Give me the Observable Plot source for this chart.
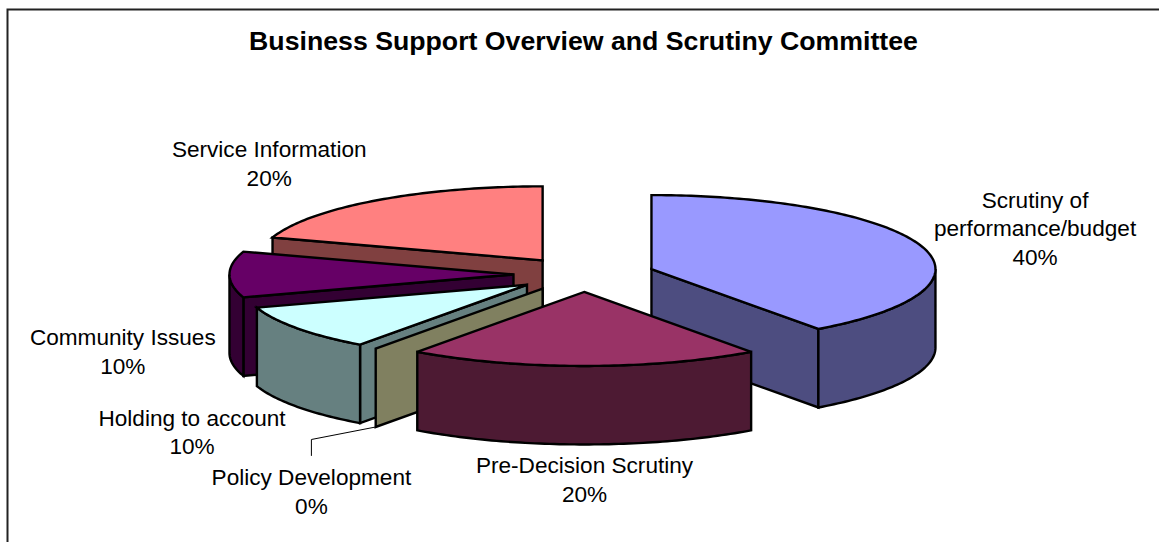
<!DOCTYPE html>
<html>
<head>
<meta charset="utf-8">
<style>
  html, body { margin: 0; padding: 0; background: #fff; }
  svg { display: block; }
</style>
<script src="https://cdn.jsdelivr.net/npm/d3@7"></script>
<script src="https://cdn.jsdelivr.net/npm/@observablehq/plot@0.6"></script>
</head>
<body>
<div id="chart"></div>
<script>
// Committee time by topic, in percent, clockwise from twelve o'clock.
const categories = [
  "Scrutiny of\nperformance/budget",
  "Pre-Decision Scrutiny",
  "Policy Development",
  "Holding to account",
  "Community Issues",
  "Service Information"
];
const shares = [40, 20, 0, 10, 10, 20];
const topColors = ["#9999FF", "#993366", "#808060", "#CCFFFF", "#660066", "#FF8080"];
const sideColors = ["#4D4D80", "#4D1A33", "#808060", "#668080", "#330033", "#804040"];
// Label centre relative to the middle of each slice's rim, in pixels.
const labelNudges = [[113.5, -19], [0.3, 112.5], [-64.3, 141.8], [-105.2, 102.4], [-106.7, 76], [-106.5, -38]];

const W = 1159, H = 542;
const cx = 583.7, cy = 274; // pie centre
const rx = 284, ry = 74;    // projected radii
const explodeX = 0.249, explodeY = 0.236; // slice offset, as a share of the radius
const depth = 78.5 / ry;    // extrusion height
const font = "Liberation Sans, Arial, sans-serif";

// Cumulative start and end angles (degrees) for every slice.
const total = d3.sum(shares);
let running = 0;
const slices = shares.map((value, i) => {
  const a0 = running / total * 360;
  running += value;
  const a1 = running / total * 360;
  const mid = (a0 + a1) / 2 * Math.PI / 180;
  return {
    i, value, a0, a1, mid,
    ox: explodeX * Math.sin(mid),
    oy: -explodeY * Math.cos(mid),
    name: categories[i]
  };
});

const rad = (deg) => deg * Math.PI / 180;
const rim = (s, deg, z = 0) => ({
  x: s.ox + Math.sin(rad(deg)),
  y: s.oy - Math.cos(rad(deg)) + z
});
const apex = (s, z = 0) => ({x: s.ox, y: s.oy + z});
const arc = (s, from, to, z = 0) => {
  const n = Math.max(1, Math.ceil(Math.abs(to - from)));
  return d3.range(n + 1).map((k) => rim(s, from + (to - from) * k / n, z));
};

const topFace = (s) => [apex(s), ...arc(s, s.a0, s.a1)];
const radialWall = (s, deg) => [apex(s), rim(s, deg), rim(s, deg, depth), apex(s, depth)];
const outerWall = (s, from, to) => [...arc(s, from, to), ...arc(s, to, from, depth)];

const [budget, decision, policy, account, community, service] = slices;

// Painter's order: back of the pie first, front slice last.
const faces = [
  {points: radialWall(service, service.a0), fill: sideColors[5]},
  {points: topFace(service), fill: topColors[5]},
  {points: radialWall(community, community.a0), fill: sideColors[4]},
  {points: outerWall(community, community.a0, 270), fill: sideColors[4]},
  {points: topFace(community), fill: topColors[4]},
  {points: radialWall(account, account.a0), fill: sideColors[3]},
  {points: outerWall(account, account.a0, account.a1), fill: sideColors[3]},
  {points: topFace(account), fill: topColors[3]},
  {points: radialWall(policy, policy.a0), fill: sideColors[2]},
  {points: radialWall(budget, budget.a1), fill: sideColors[0]},
  {points: outerWall(budget, 90, budget.a1), fill: sideColors[0]},
  {points: topFace(budget), fill: topColors[0]},
  {points: outerWall(decision, decision.a0, decision.a1), fill: sideColors[1]},
  {points: topFace(decision), fill: topColors[1]}
];

// Labels sit at the rim midpoint of their slice plus a fixed nudge.
const labels = slices.map((s) => {
  const [nx, ny] = labelNudges[s.i];
  return {
    x: s.ox + Math.sin(s.mid) + nx / rx,
    y: s.oy - Math.cos(s.mid) + ny / ry,
    text: `${s.name}\n${s.value}%`
  };
});

// Leader from the foot of the empty slice's wall to its label.
const policyLabel = labels[2];
const leader = [
  rim(policy, policy.a0, depth),
  {x: policyLabel.x, y: policyLabel.y - 50.8 / ry},
  {x: policyLabel.x, y: policyLabel.y - 34.8 / ry}
];

const chart = Plot.plot({
  width: W,
  height: H,
  margin: 0,
  style: {background: "#fff"},
  x: {axis: null, domain: [-cx / rx, (W - cx) / rx], range: [0, W]},
  y: {axis: null, domain: [-cy / ry, (H - cy) / ry], range: [0, H]},
  marks: [
    Plot.frame({stroke: "#222", strokeWidth: 2, insetLeft: 7, insetTop: 9, insetRight: -6, insetBottom: -6}),
    ...faces.map((f) => Plot.line(f.points, {
      x: "x", y: "y",
      curve: "linear-closed",
      fill: f.fill,
      stroke: "#000",
      strokeWidth: 2.4,
      strokeLinejoin: "miter",
      strokeMiterlimit: 3
    })),
    Plot.line(leader, {x: "x", y: "y", stroke: "#000", strokeWidth: 1}),
    Plot.text(labels, {
      x: "x", y: "y", text: "text",
      fontFamily: font,
      fontSize: 22.6,
      lineHeight: 1.26,
      fill: "#000",
      textAnchor: "middle"
    }),
    Plot.text(["Business Support Overview and Scrutiny Committee"], {
      x: -0.7 / rx,
      y: (41 - cy) / ry,
      fontFamily: font,
      fontWeight: "bold",
      fontSize: 26.7,
      fill: "#000",
      textAnchor: "middle"
    })
  ]
});
document.getElementById("chart").append(chart);
</script>
</body>
</html>
